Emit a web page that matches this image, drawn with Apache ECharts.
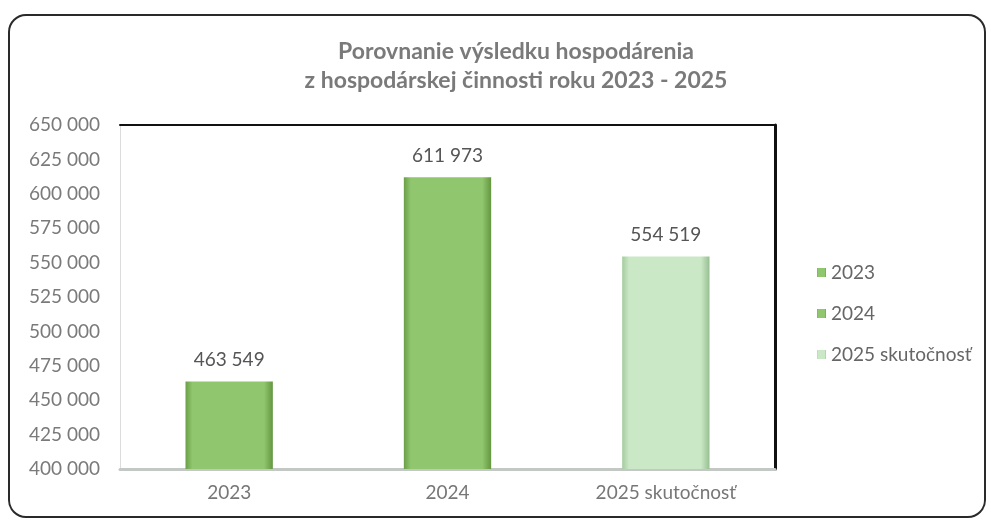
<!DOCTYPE html>
<html>
<head>
<meta charset="utf-8">
<script src="https://cdn.jsdelivr.net/npm/echarts@6/dist/echarts.min.js"></script>
<style>
  html, body { margin: 0; padding: 0; background: #fff; }
  #frame {
    position: absolute; left: 8px; top: 14px; width: 978px; height: 504px;
    border: 2px solid #2a2a2a; border-radius: 18px; box-sizing: border-box;
  }
  #chart { position: absolute; left: 0; top: 0; width: 991px; height: 524px; }
</style>
</head>
<body>
<div id="frame"></div>
<div id="chart"></div>
<script>
// values
const categories = ["2023", "2024", "2025 skutočnosť"];
const seriesNames = ["2023", "2024", "2025 skutočnosť"];
const values = [463549, 611973, 554519];
const barColors = [
  ["#6a9f48", "#90c66e", "#63963f"],
  ["#6a9f48", "#90c66e", "#63963f"],
  ["#a3cc9e", "#cbe8c6", "#97bf92"]
];

const fmt = (v) => String(v).replace(/\B(?=(\d{3})+(?!\d))/g, " ");

const chart = echarts.init(document.getElementById("chart"));

const series = seriesNames.map((name, i) => ({
  name: name,
  type: "bar",
  barWidth: "40%",
  barGap: "-100%",
  data: categories.map((c, j) => (j === i ? values[i] : "-")),
  itemStyle: {
    color: new echarts.graphic.LinearGradient(0, 0, 1, 0, [
      { offset: 0, color: barColors[i][0] },
      { offset: 0.08, color: barColors[i][1] },
      { offset: 0.9, color: barColors[i][1] },
      { offset: 1, color: barColors[i][2] }
    ])
  },
  label: {
    show: true,
    position: "top",
    distance: 12,
    color: "#555",
    fontSize: 19,
    fontFamily: "Lato",
    formatter: (p) => fmt(p.value)
  }
}));

const option = {
  animation: false,
  textStyle: { fontFamily: "Lato" },
  title: {
    text: "Porovnanie výsledku hospodárenia\nz hospodárskej činnosti roku 2023 - 2025",
    left: 511,
    top: 32,
    textAlign: "center",
    textStyle: { fontSize: 23, fontWeight: "bold", color: "#7a7a7a", lineHeight: 29, fontFamily: "Lato" }
  },
  legend: {
    orient: "vertical",
    left: 812,
    top: 258,
    itemWidth: 9,
    itemHeight: 9,
    itemGap: 22,
    icon: "rect",
    textStyle: { fontSize: 19, color: "#666", fontFamily: "Lato" },
    data: seriesNames
  },
  grid: { left: 120, right: 216, top: 125, bottom: 55 },
  xAxis: [
    {
      type: "category",
      data: categories,
      axisLine: { lineStyle: { color: "#c4c8c4", width: 3 } },
      axisTick: { show: false },
      axisLabel: { color: "#777", fontSize: 19, margin: 14 }
    },
    {
      type: "category",
      position: "top",
      data: categories,
      axisLine: { lineStyle: { color: "#111", width: 2 } },
      axisTick: { show: false },
      axisLabel: { show: false }
    }
  ],
  yAxis: [
    {
      type: "value",
      min: 400000,
      max: 650000,
      interval: 25000,
      axisLine: { show: true, lineStyle: { color: "#dcdcdc", width: 1 } },
      axisTick: { show: false },
      splitLine: { show: false },
      axisLabel: { color: "#7a7a7a", fontSize: 19, margin: 20, formatter: fmt }
    },
    {
      type: "value",
      position: "right",
      min: 400000,
      max: 650000,
      interval: 25000,
      axisLine: { show: true, lineStyle: { color: "#111", width: 3 } },
      axisTick: { show: false },
      splitLine: { show: false },
      axisLabel: { show: false }
    }
  ],
  series: series
};

chart.setOption(option);
</script>
</body>
</html>
